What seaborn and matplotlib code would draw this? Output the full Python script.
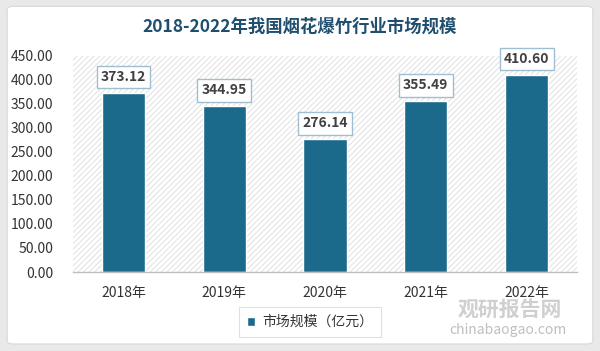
import matplotlib
matplotlib.use("Agg")
import matplotlib.pyplot as plt
import seaborn as sns
import pandas as pd
from matplotlib.patches import Rectangle, FancyBboxPatch

years = ["2018年", "2019年", "2020年", "2021年", "2022年"]
values = [373.12, 344.95, 276.14, 355.49, 410.60]
series_name = "市场规模（亿元）"
title = "2018-2022年我国烟花爆竹行业市场规模"
yticks = [0, 50, 100, 150, 200, 250, 300, 350, 400, 450]

sns.set_theme(style="white")
plt.rcParams['font.family'] = ['Noto Sans CJK SC', 'DejaVu Sans']
plt.rcParams['hatch.linewidth'] = 0.6
plt.rcParams['hatch.color'] = '#dcdcdc'

df = pd.DataFrame({"year": years, "value": values})

fig = plt.figure(figsize=(6.0, 3.51), dpi=100)
fig.patch.set_facecolor('#e9e9e9')
fig.patches.append(FancyBboxPatch((0.012, 0.02), 0.976, 0.962, boxstyle="round,pad=0,rounding_size=0.01",
                                  transform=fig.transFigure, facecolor='white', edgecolor='#d8d8d8',
                                  lw=0.8, zorder=-10))

ax = fig.add_axes([73/600, 1 - 272/351, (577-73)/600, (272-56)/351])
ax.set_facecolor('none')
ax.add_patch(Rectangle((0, 0), 1, 1, transform=ax.transAxes, hatch='//////', fill=False,
                       edgecolor='#dcdcdc', lw=0, zorder=0))

color = '#1b6a8c'
sns.barplot(data=df, x="year", y="value", color=color, width=0.43, ax=ax,
            saturation=1, label=series_name, zorder=2)

ax.set_ylim(0, 450)
ax.set_xlim(-0.5, 4.5)
ax.set_yticks(yticks)
ax.set_yticklabels([f"{v:.2f}" for v in yticks], fontsize=10, color='#333333')
ax.tick_params(axis='x', labelsize=10, colors='#333333', length=0, pad=10)
ax.tick_params(axis='y', length=0, pad=14)
ax.set_xlabel("")
ax.set_ylabel("")
for s in ['top', 'right', 'left']:
    ax.spines[s].set_visible(False)
ax.spines['bottom'].set_color('#bfbfbf')
ax.spines['bottom'].set_linewidth(1)

for i, v in enumerate(values):
    ax.annotate(f"{v:.2f}", xy=(i, v), xytext=(0, 11.5), textcoords='offset points',
                ha='center', va='center', fontsize=10, fontweight='bold', color='#404040',
                bbox=dict(boxstyle='square,pad=0.3', facecolor='white', edgecolor='#9fbfd0', lw=1),
                zorder=5)

fig.text(0.5, 1 - 27/351, title, ha='center', va='center', fontsize=12.5,
         fontweight='bold', color='#1f4e6e')

leg = ax.legend(loc='center', bbox_to_anchor=((310-73)/504, (272-322)/216), frameon=True,
                fontsize=10, handlelength=0.6, handleheight=0.6, handletextpad=0.5,
                borderpad=0.6, fancybox=False)
leg.get_frame().set_edgecolor('#d9d9d9')
leg.get_frame().set_linewidth(0.8)
for t in leg.get_texts():
    t.set_color('#333333')

# watermark
fig.text(510/600, 1 - 309/351, "观研报告网", ha='center', va='center', fontsize=15,
         fontweight='bold', color='#c4c4c4', alpha=0.8)
fig.text(508/600, 1 - 330/351, "chinabaogao.com", ha='center', va='center', fontsize=10,
         color='#b8b8b8', alpha=0.9)

fig.savefig("out.png", dpi=100)
